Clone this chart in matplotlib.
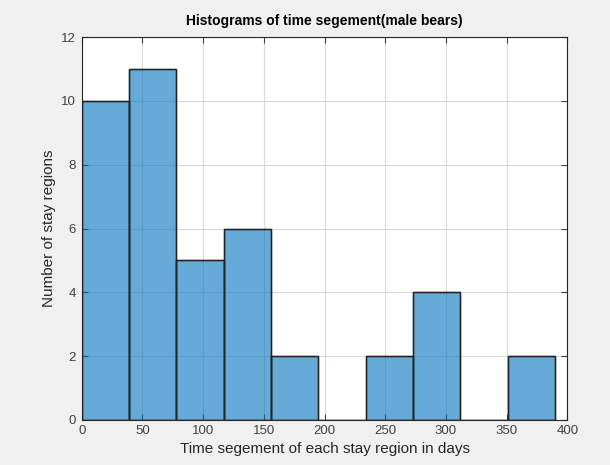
import numpy as np
import matplotlib
matplotlib.use('Agg')
import matplotlib.pyplot as plt

plt.rcParams['font.family'] = ['Liberation Sans', 'DejaVu Sans']

# histogram bins (days) and counts per bin
bin_edges = [0, 39, 78, 117, 156, 195, 234, 273, 312, 351, 390]
counts = [10, 11, 5, 6, 2, 0, 2, 4, 0, 2]

fig = plt.figure(figsize=(6.1, 4.65), dpi=100, facecolor='#f0f0f0')
ax = fig.add_axes([0.134, 0.097, 0.796, 0.823])
ax.set_facecolor('white')

widths = np.diff(bin_edges)
ax.bar(bin_edges[:-1], counts, width=widths, align='edge',
       color='#0072BD', alpha=0.6, edgecolor='black', linewidth=1.0)
# redraw the outlines fully opaque
ax.bar(bin_edges[:-1], counts, width=widths, align='edge',
       fill=False, edgecolor='#222222', linewidth=1.0)

ax.set_xlim(0, 400)
ax.set_ylim(0, 12)
ax.set_xticks(range(0, 401, 50))
ax.set_yticks(range(0, 13, 2))
ax.grid(True, color='#d9d9d9', linewidth=0.8)
ax.set_axisbelow(True)
ax.tick_params(direction='in', top=True, right=True, length=4, width=0.8,
               labelsize=9.5, colors='#404040', pad=4)
for s in ax.spines.values():
    s.set_color('#262626')
    s.set_linewidth(0.8)

ax.set_title('Histograms of time segement(male bears)', fontsize=10,
             fontweight='bold', color='black', pad=9)
ax.set_xlabel('Time segement of each stay region in days', fontsize=11,
              color='#262626', labelpad=3)
ax.set_ylabel('Number of stay regions', fontsize=11, color='#262626', labelpad=4)

fig.savefig('out.png', dpi=100, facecolor=fig.get_facecolor())
